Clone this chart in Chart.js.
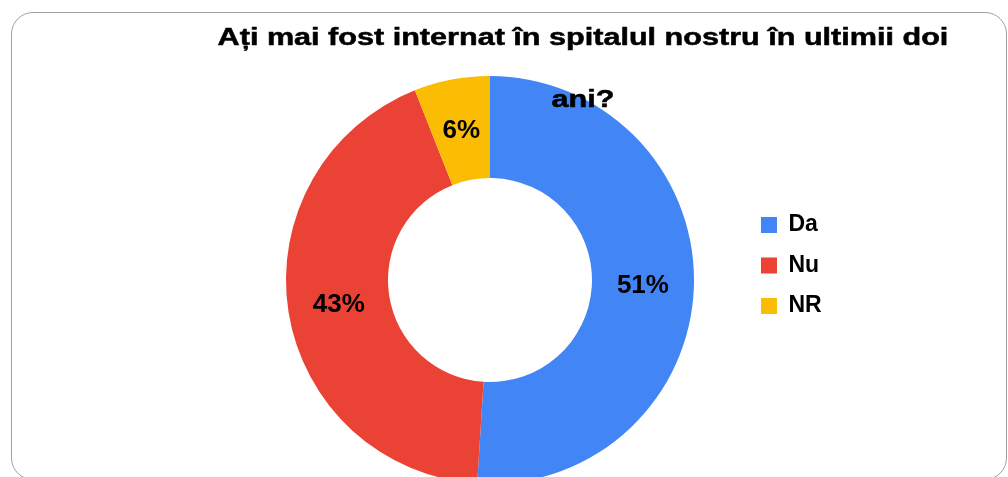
<!DOCTYPE html>
<html>
<head>
<meta charset="utf-8">
<script src="https://cdn.jsdelivr.net/npm/chart.js@4.4.1/dist/chart.umd.min.js"></script>
<style>
  html, body { margin: 0; padding: 0; width: 1008px; height: 477px; overflow: hidden; background: #fff; }
  #frame { position: absolute; left: 11px; top: 12px; width: 994px; height: 466px; border: 1px solid #a0a0a0; border-radius: 22px; }
  #c { position: absolute; left: 0; top: 0; }
  #title { position: absolute; left: 183px; top: 6px; width: 800px; text-align: center; font-family: "Liberation Sans", Arial, sans-serif; font-weight: bold; font-size: 23px; line-height: 62px; color: #000; white-space: nowrap; z-index: 2; transform: scaleX(1.33); transform-origin: 400px 0; -webkit-text-stroke: 0.5px #000; }
</style>
</head>
<body>
<div id="frame"></div>
<canvas id="c" width="1008" height="490"></canvas>
<div id="title">Ați mai fost internat în spitalul nostru în ultimii doi<br>ani?</div>
<script>
const categories = ["Da", "Nu", "NR"];
const values = [51, 43, 6];
const colors = ["#4285F4", "#EA4335", "#FBBC04"];

Chart.defaults.font.family = '"Liberation Sans", Arial, sans-serif';

const valueLabels = {
  id: 'valueLabels',
  afterDatasetsDraw(chart) {
    const ctx = chart.ctx;
    const meta = chart.getDatasetMeta(0);
    ctx.save();
    ctx.font = 'bold 26px "Liberation Sans", Arial, sans-serif';
    ctx.fillStyle = '#000';
    ctx.textAlign = 'center';
    ctx.textBaseline = 'middle';
    meta.data.forEach((arc, i) => {
      const p = arc.tooltipPosition();
      ctx.fillText(values[i] + '%', p.x, p.y + 1);
    });
    ctx.restore();
  }
};

new Chart(document.getElementById('c'), {
  type: 'doughnut',
  data: {
    labels: categories,
    datasets: [{ data: values, backgroundColor: colors, borderWidth: 0 }]
  },
  options: {
    responsive: false,
    animation: false,
    cutout: '50%',
    layout: { padding: { left: 236.5, right: 176.3, top: 76, bottom: 6 } },
    plugins: {
      tooltip: { enabled: false },
      title: { display: false },
      legend: {
        position: 'right',
        align: 'start',
        title: { display: true, text: '', font: { size: 10, lineHeight: 1 }, padding: { top: 0, bottom: 110 } },
        labels: {
          boxWidth: 16,
          boxHeight: 16,
          padding: 17.5,
          color: '#000',
          font: { size: 23, weight: 'bold' }
        }
      }
    }
  },
  plugins: [valueLabels]
});
</script>
</body>
</html>
